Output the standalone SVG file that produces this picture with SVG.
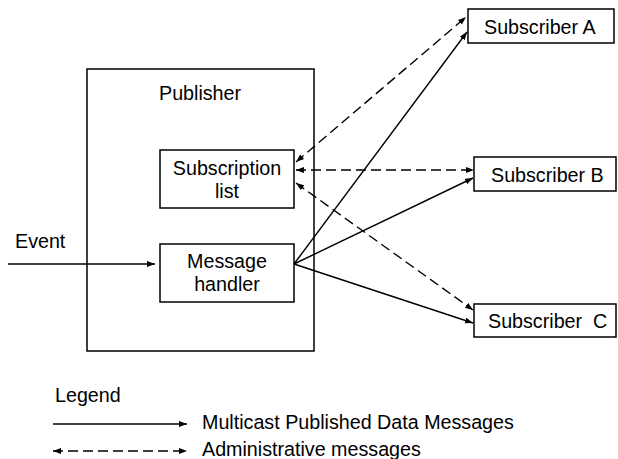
<svg xmlns="http://www.w3.org/2000/svg" width="618" height="459" viewBox="0 0 618 459">
  <style>
    .box { fill: #ffffff; stroke: #000000; stroke-width: 1.5; }
    .frame { fill: none; stroke: #000000; stroke-width: 1.5; }
    .lbl { font-family: "Liberation Sans", Arial, sans-serif; font-size: 19.7px; fill: #000000; }
    .mid { text-anchor: middle; }
    .solid { fill: none; stroke: #000000; stroke-width: 1.4; marker-end: url(#arrow); }
    .dash { fill: none; stroke: #000000; stroke-width: 1.4; stroke-dasharray: 10 5; marker-start: url(#arrow-back); marker-end: url(#arrow); }
  </style>
  <defs>
    <marker id="arrow" markerUnits="userSpaceOnUse" markerWidth="9" markerHeight="7" refX="8" refY="3" orient="auto">
      <path d="M0,0 L8,3 L0,6 z" fill="#000000"/>
    </marker>
    <marker id="arrow-back" markerUnits="userSpaceOnUse" markerWidth="9" markerHeight="7" refX="0" refY="3" orient="auto">
      <path d="M8,0 L0,3 L8,6 z" fill="#000000"/>
    </marker>
  </defs>

  <rect width="618" height="459" fill="#ffffff"/>

  <!-- publisher container -->
  <g id="publisher">
    <rect class="frame" x="87" y="69" width="227" height="282"/>
    <text class="lbl" x="159" y="100">Publisher</text>
  </g>

  <g id="subscription-list">
    <rect class="box" x="160" y="150" width="134" height="58"/>
    <text class="lbl mid" x="227" y="175">Subscription</text>
    <text class="lbl mid" x="227" y="198">list</text>
  </g>

  <g id="message-handler">
    <rect class="box" x="160" y="244" width="134" height="58"/>
    <text class="lbl mid" x="227" y="268">Message</text>
    <text class="lbl mid" x="227" y="291">handler</text>
  </g>

  <g id="subscriber-a">
    <rect class="box" x="468" y="9" width="146" height="34"/>
    <text class="lbl" x="484" y="34">Subscriber A</text>
  </g>

  <g id="subscriber-b">
    <rect class="box" x="474" y="157" width="142" height="34"/>
    <text class="lbl" x="491" y="182">Subscriber B</text>
  </g>

  <g id="subscriber-c">
    <rect class="box" x="474" y="304" width="142" height="33"/>
    <text class="lbl" x="488" y="328" xml:space="preserve">Subscriber  C</text>
  </g>

  <g id="event">
    <text class="lbl" x="15" y="248">Event</text>
  </g>

  <!-- connectors -->
  <g id="connectors">
    <line class="solid" x1="8" y1="264" x2="155" y2="264"/>
    <line class="solid" x1="294" y1="264" x2="467" y2="32"/>
    <line class="solid" x1="294" y1="264" x2="473" y2="178"/>
    <line class="solid" x1="294" y1="264" x2="473" y2="323"/>
    <line class="dash" x1="296" y1="162" x2="466" y2="17"/>
    <line class="dash" x1="296" y1="170" x2="474" y2="170"/>
    <line class="dash" x1="296" y1="183" x2="473" y2="310"/>
  </g>

  <!-- legend -->
  <g id="legend">
    <text class="lbl" x="55" y="402">Legend</text>
    <line class="solid" x1="53" y1="424" x2="187" y2="424"/>
    <text class="lbl" x="202" y="429">Multicast Published Data Messages</text>
    <line class="dash" x1="53" y1="451" x2="187" y2="451"/>
    <text class="lbl" x="202" y="456">Administrative messages</text>
  </g>
</svg>
